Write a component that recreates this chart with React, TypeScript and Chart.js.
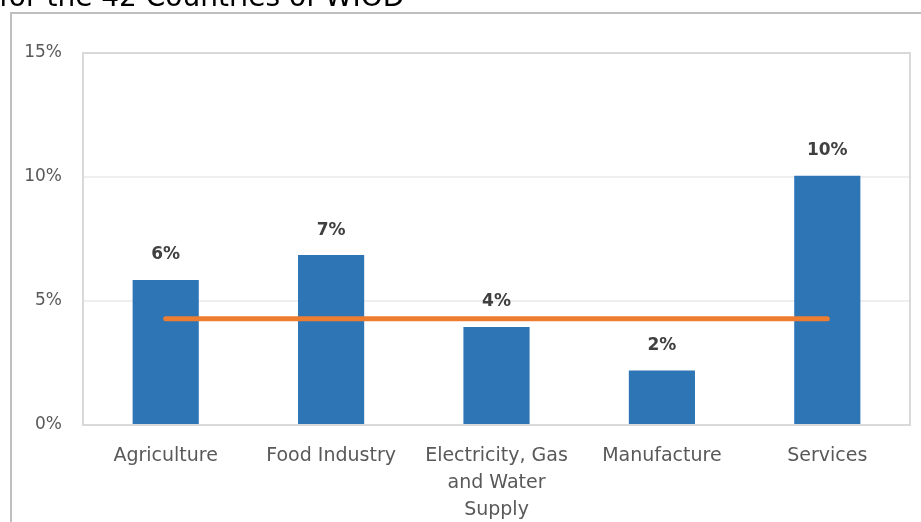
import React, { useEffect, useRef } from "react";
import { Chart, registerables } from "chart.js";

Chart.register(...registerables);

const categories: (string | string[])[] = [
  "Agriculture",
  "Food Industry",
  ["Electricity, Gas", "and Water", "Supply"],
  "Manufacture",
  "Services",
];
const barValues = [5.85, 6.85, 3.95, 2.2, 10.05];
const barLabels = ["6%", "7%", "4%", "2%", "10%"];
const averageValues = [4.28, 4.28, 4.28, 4.28, 4.28];
const titleText = "for the 42 Countries of WIOD";

const FONT = "'DejaVu Sans', Verdana, sans-serif";

const framePlugin = {
  id: "frame",
  beforeDraw(chart: any) {
    const { ctx } = chart;
    ctx.save();
    ctx.fillStyle = "#ffffff";
    ctx.fillRect(0, 0, chart.width, chart.height);
    ctx.strokeStyle = "#BFBFBF";
    ctx.lineWidth = 2;
    ctx.strokeRect(11, 13, chart.width + 20, chart.height + 20);
    ctx.fillStyle = "#000000";
    ctx.font = `28px ${FONT}`;
    ctx.textBaseline = "alphabetic";
    ctx.textAlign = "left";
    ctx.fillText(titleText, -1, 6);
    ctx.restore();
  },
  beforeDatasetsDraw(chart: any) {
    const { ctx, chartArea } = chart;
    ctx.save();
    ctx.strokeStyle = "#D9D9D9";
    ctx.lineWidth = 2;
    ctx.strokeRect(chartArea.left, chartArea.top, chartArea.right - chartArea.left, chartArea.bottom - chartArea.top);
    ctx.restore();
  },
  afterDatasetsDraw(chart: any) {
    const { ctx } = chart;
    const meta = chart.getDatasetMeta(1);
    ctx.save();
    ctx.fillStyle = "#404040";
    ctx.font = `bold 17px ${FONT}`;
    ctx.textAlign = "center";
    ctx.textBaseline = "middle";
    meta.data.forEach((bar: any, i: number) => {
      ctx.fillText(barLabels[i], bar.x, bar.y - 25);
    });
    ctx.restore();
  },
};

export default function App() {
  const ref = useRef<HTMLCanvasElement | null>(null);
  useEffect(() => {
    if (!ref.current) return;
    const chart = new Chart(ref.current, {
      data: {
        labels: categories as any,
        datasets: [
          {
            type: "line",
            data: averageValues,
            borderColor: "#ED7D31",
            borderWidth: 5,
            borderCapStyle: "round",
            pointRadius: 0,
            order: 0,
          } as any,
          {
            type: "bar",
            data: barValues,
            backgroundColor: "#2E75B6",
            categoryPercentage: 1,
            barPercentage: 0.4,
            order: 1,
          } as any,
        ],
      },
      options: {
        responsive: false,
        animation: false,
        layout: { padding: { left: 10, right: 11, top: 53, bottom: 0 } },
        plugins: { legend: { display: false }, tooltip: { enabled: false }, title: { display: false } },
        scales: {
          x: {
            grid: { display: false, drawTicks: false },
            border: { display: false },
            ticks: {
              color: "#595959",
              font: { family: FONT, size: 19, lineHeight: 1.44 },
              padding: 17,
              maxRotation: 0,
              autoSkip: false,
            },
            afterFit(scale: any) {
              scale.height = 97;
            },
          },
          y: {
            min: 0,
            max: 15,
            grid: {
              drawTicks: false,
              color: (c: any) => (c.tick && (c.tick.value === 0 || c.tick.value === 15) ? "rgba(0,0,0,0)" : "#EFEFEF"),
              lineWidth: 2,
            },
            border: { display: false },
            ticks: {
              stepSize: 5,
              color: "#595959",
              font: { family: FONT, size: 17, lineHeight: 1.2 },
              padding: 21,
              callback: (v: any) => `${v}%`,
            },
            afterFit(scale: any) {
              scale.width = 73;
            },
          },
        },
      },
      plugins: [framePlugin],
    });
    return () => chart.destroy();
  }, []);
  return (
    <div style={{ position: "fixed", left: 0, top: 0, width: 921, height: 522, background: "#fff" }}>
      <canvas ref={ref} width={921} height={522} style={{ display: "block" }} />
    </div>
  );
}
